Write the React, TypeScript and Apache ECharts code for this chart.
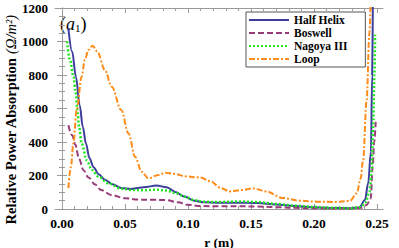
import React, { useEffect, useRef } from "react";
import * as echarts from "echarts";

// ---- data (r in m, value in Ω/m²) ----
const seriesNames = ["Half Helix", "Boswell", "Nagoya III", "Loop"];

const halfHelix: [number, number][] = [
  [0.005, 1080], [0.008, 940], [0.011, 790], [0.014, 620], [0.0165, 490], [0.019, 390],
  [0.0217, 305], [0.025, 250], [0.029, 208], [0.034, 175], [0.04, 148], [0.047, 126],
  [0.055, 120], [0.065, 130], [0.075, 140], [0.083, 130], [0.09, 102], [0.097, 74],
  [0.105, 50], [0.112, 40], [0.125, 38], [0.14, 38], [0.155, 36], [0.17, 27],
  [0.185, 18], [0.2, 10], [0.215, 6], [0.23, 5], [0.236, 9], [0.2405, 54],
  [0.243, 153], [0.2452, 340], [0.2462, 800], [0.2468, 1300],
];

const boswell: [number, number][] = [
  [0.005, 500], [0.008, 440], [0.0105, 385], [0.0135, 300], [0.017, 232], [0.021, 188],
  [0.026, 148], [0.031, 113], [0.039, 84], [0.05, 64], [0.06, 56], [0.072, 55],
  [0.083, 53], [0.092, 40], [0.1, 25], [0.11, 18], [0.125, 16], [0.14, 16],
  [0.155, 15], [0.17, 11], [0.185, 7], [0.2, 4], [0.215, 3], [0.23, 3],
  [0.238, 8], [0.2418, 24], [0.245, 60], [0.2466, 253], [0.2478, 400], [0.249, 520],
];

const nagoya: [number, number][] = [
  [0.004, 1000], [0.0063, 890], [0.009, 790], [0.0109, 690], [0.0122, 590], [0.0135, 490],
  [0.0156, 390], [0.0196, 290], [0.0236, 233], [0.029, 193], [0.0368, 153], [0.047, 122],
  [0.055, 114], [0.065, 112], [0.075, 115], [0.083, 110], [0.09, 95], [0.0976, 73],
  [0.105, 53], [0.112, 43], [0.125, 42], [0.14, 45], [0.155, 42], [0.17, 30],
  [0.185, 20], [0.2, 12], [0.215, 7], [0.23, 5], [0.237, 12], [0.241, 40],
  [0.244, 100], [0.2458, 230], [0.247, 500], [0.248, 800], [0.2485, 1040],
];

const loop: [number, number][] = [
  [0.005, 125], [0.007, 250], [0.009, 392], [0.0116, 591], [0.0156, 790], [0.018, 890],
  [0.021, 950], [0.0243, 975], [0.028, 940], [0.034, 830], [0.0394, 730], [0.047, 591],
  [0.0527, 452], [0.058, 312], [0.0632, 223], [0.0685, 183], [0.0765, 203], [0.082, 217],
  [0.0897, 209], [0.0976, 195], [0.1095, 188], [0.118, 165], [0.126, 125], [0.133, 105],
  [0.142, 113], [0.152, 123], [0.162, 105], [0.175, 66], [0.188, 50], [0.202, 44],
  [0.215, 42], [0.2286, 48], [0.234, 94], [0.237, 180], [0.239, 292], [0.2418, 650],
  [0.244, 1050], [0.2452, 1300],
];

const xMajorTicks = [0, 0.05, 0.1, 0.15, 0.2, 0.25];
const xMinorTicks = [
  0.01, 0.02, 0.03, 0.04, 0.06, 0.07, 0.08, 0.09, 0.11, 0.12, 0.13, 0.14,
  0.16, 0.17, 0.18, 0.19, 0.21, 0.22, 0.23, 0.24,
];
const xRange = [-0.0056, 0.2548];
const yRange = [0, 1200];
const yStep = 200;

const FONT = "Liberation Serif, Times New Roman, serif";
const AXIS_GRAY = "#9a9a9a";

export default function App() {
  const ref = useRef<HTMLDivElement>(null);

  useEffect(() => {
    if (!ref.current) return;
    const chart = echarts.init(ref.current, undefined, { renderer: "svg" });

    const mkX = (pos: "bottom" | "top", major: boolean, labels: boolean) => ({
      type: "value",
      min: xRange[0],
      max: xRange[1],
      position: pos,
      axisLine: { show: major, lineStyle: { color: AXIS_GRAY, width: 1 } },
      axisTick: {
        show: true,
        inside: true,
        length: major ? 5 : 3,
        customValues: major ? xMajorTicks : xMinorTicks,
        lineStyle: { color: AXIS_GRAY },
      },
      axisLabel: {
        show: labels,
        customValues: xMajorTicks,
        formatter: (v: number) => v.toFixed(2),
        color: "#000",
        fontFamily: FONT,
        fontWeight: "bold",
        fontSize: 13.5,
        margin: 7,
      },
      splitLine: { show: false },
    });

    const mkY = (pos: "left" | "right", labels: boolean) => ({
      type: "value",
      min: yRange[0],
      max: yRange[1],
      interval: yStep,
      position: pos,
      axisLine: { show: true, lineStyle: { color: AXIS_GRAY, width: 1 } },
      axisTick: { show: true, inside: true, length: 5, lineStyle: { color: AXIS_GRAY } },
      minorTick: { show: true, splitNumber: 4, length: 3, lineStyle: { color: AXIS_GRAY } },
      axisLabel: {
        show: labels,
        formatter: (v: number) => String(v),
        color: "#000",
        fontFamily: FONT,
        fontWeight: "bold",
        fontSize: 13,
        margin: 7,
      },
      splitLine: { show: false },
    });

    const lineSeries = (
      name: string,
      data: [number, number][],
      color: string,
      type: any,
      width: number
    ) => ({
      name,
      type: "line",
      data,
      xAxisIndex: 0,
      yAxisIndex: 0,
      showSymbol: false,
      symbol: "none",
      smooth: 0.35,
      smoothMonotone: "x",
      clip: true,
      lineStyle: { color, width, type },
      itemStyle: { color },
    });

    chart.setOption({
      animation: false,
      grid: { left: 55, right: 16, top: 8, bottom: 39, containLabel: false },
      xAxis: [
        mkX("bottom", true, true),
        mkX("bottom", false, false),
        mkX("top", true, false),
        mkX("top", false, false),
      ],
      yAxis: [mkY("left", true), mkY("right", false)],
      legend: {
        data: seriesNames,
        orient: "vertical",
        left: 246,
        top: 12,
        itemWidth: 40,
        itemHeight: 11,
        itemGap: 1,
        padding: [2, 18, 2, 2],
        borderColor: "#555",
        borderWidth: 1,
        backgroundColor: "#fff",
        itemStyle: { color: "rgba(0,0,0,0)", borderWidth: 0, opacity: 0 },
        textStyle: { fontFamily: FONT, fontWeight: "bold", fontSize: 11.5, lineHeight: 11, color: "#000" },
      },
      graphic: [
        {
          type: "text",
          x: 11,
          y: 120,
          rotation: Math.PI / 2,
          style: {
            text: "{b|Relative Power Absorption }{i|(Ω/m²)}",
            align: "center",
            verticalAlign: "middle",
            rich: {
              b: { fontFamily: FONT, fontWeight: "bold", fontSize: 14.5, fill: "#000" },
              i: { fontFamily: FONT, fontStyle: "italic", fontSize: 14.5, fill: "#000" },
            },
          },
        },
        {
          type: "text",
          x: 219,
          y: 242,
          style: {
            text: "r (m)",
            align: "center",
            verticalAlign: "middle",
            fontFamily: FONT,
            fontWeight: "bold",
            fontSize: 13.5,
            fill: "#000",
          },
        },
        {
          type: "text",
          x: 60,
          y: 24,
          style: {
            text: "{p|(}{a|a}{s|1}{p|)}",
            align: "left",
            verticalAlign: "middle",
            rich: {
              p: { fontFamily: FONT, fontSize: 18, fill: "#000" },
              a: { fontFamily: FONT, fontStyle: "italic", fontSize: 18, fill: "#000" },
              s: { fontFamily: FONT, fontSize: 11, fill: "#000", verticalAlign: "bottom", padding: [6, 0, 0, 0] },
            },
          },
        },
      ],
      series: [
        lineSeries(seriesNames[0], halfHelix, "#3d3d9e", "solid", 2),
        lineSeries(seriesNames[1], boswell, "#973c78", [6, 3], 2),
        lineSeries(seriesNames[2], nagoya, "#1ee61e", [2, 2], 2.5),
        lineSeries(seriesNames[3], loop, "#ff8c1a", [6, 2, 2, 2], 2),
      ],
    });

    return () => chart.dispose();
  }, []);

  return <div ref={ref} style={{ width: 399, height: 248, position: "absolute", left: 0, top: 0, background: "#fff" }} />;
}
